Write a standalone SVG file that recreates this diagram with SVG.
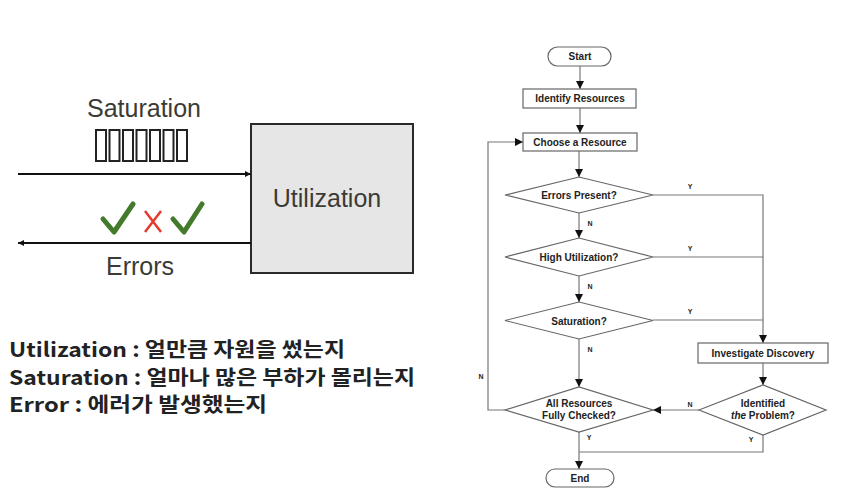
<svg xmlns="http://www.w3.org/2000/svg" width="846" height="499" viewBox="0 0 846 499">
<defs>
<style>
.lbl{font-family:"Liberation Sans",Arial,sans-serif;fill:#3b3b36;font-size:25px}
.kr{font-family:"Noto Sans CJK KR","Noto Sans",sans-serif;font-weight:bold;font-size:20px;fill:#222}
.fc{font-family:"Liberation Sans",Arial,sans-serif;font-weight:bold;font-size:10px;fill:#222;text-anchor:middle}
.yn{font-family:"Liberation Sans",Arial,sans-serif;font-weight:bold;font-size:7px;fill:#222;text-anchor:middle}
.shape{fill:#fff;stroke:#666;stroke-width:1.2}
.ln{fill:none;stroke:#777;stroke-width:1.2}
.q{fill:none;stroke:#222;stroke-width:2}
</style>
<marker id="ah" viewBox="0 0 10 10" refX="10" refY="5" markerWidth="8" markerHeight="10" markerUnits="userSpaceOnUse" orient="auto">
<path d="M0,0L10,5L0,10z" fill="#111"/>
</marker>
<marker id="sa" viewBox="0 0 10 10" refX="10" refY="5" markerWidth="7" markerHeight="6" markerUnits="userSpaceOnUse" orient="auto">
<path d="M0,0L10,5L0,10z" fill="#111"/>
</marker>
</defs>
<rect width="846" height="499" fill="#fff"/>

<!-- Left diagram -->
<g id="utilization-box">
<rect x="251" y="124" width="162" height="149" fill="#e6e6e6" stroke="#2a2a2a" stroke-width="2"/>
<text class="lbl" x="327" y="207" text-anchor="middle" font-size="26">Utilization</text>
</g>
<g id="saturation">
<text class="lbl" x="144" y="117" text-anchor="middle">Saturation</text>
<rect class="q" x="96" y="130" width="10" height="31"/>
<rect class="q" x="109.5" y="130" width="10" height="31"/>
<rect class="q" x="123" y="130" width="10" height="31"/>
<rect class="q" x="136.5" y="130" width="10" height="31"/>
<rect class="q" x="150" y="130" width="10" height="31"/>
<rect class="q" x="163.5" y="130" width="10" height="31"/>
<rect class="q" x="177" y="130" width="10" height="31"/>
</g>
<g id="errors">
<text class="lbl" x="140" y="275" text-anchor="middle">Errors</text>
<path d="M103,219L114,232L133,204" fill="none" stroke="#447a2c" stroke-width="5" stroke-linecap="round" stroke-linejoin="round"/>
<path d="M145,211L161,232M161,211L145,232" stroke="#e63a2e" stroke-width="2.5"/>
<path d="M173,219L184,232L202,204" fill="none" stroke="#447a2c" stroke-width="5" stroke-linecap="round" stroke-linejoin="round"/>
</g>
<g id="left-connectors">
<line x1="18" y1="174" x2="251" y2="174" stroke="#111" stroke-width="2" marker-end="url(#sa)"/>
<line x1="251" y1="243" x2="18" y2="243" stroke="#111" stroke-width="2" marker-end="url(#sa)"/>
</g>

<g id="notes">
<text class="kr" x="9" y="357" textLength="336" lengthAdjust="spacingAndGlyphs">Utilization : 얼만큼 자원을 썼는지</text>
<text class="kr" x="9" y="385" textLength="406" lengthAdjust="spacingAndGlyphs">Saturation : 얼마나 많은 부하가 몰리는지</text>
<text class="kr" x="9" y="412" textLength="258" lengthAdjust="spacingAndGlyphs">Error : 에러가 발생했는지</text>
</g>

<!-- Flowchart -->
<g id="connectors">
<line class="ln" x1="580" y1="66" x2="580" y2="89" marker-end="url(#ah)"/>
<line class="ln" x1="580" y1="108" x2="580" y2="133" marker-end="url(#ah)"/>
<line class="ln" x1="579" y1="151" x2="579" y2="177" marker-end="url(#ah)"/>
<line class="ln" x1="579" y1="213" x2="579" y2="238" marker-end="url(#ah)"/>
<line class="ln" x1="579" y1="276" x2="579" y2="302" marker-end="url(#ah)"/>
<line class="ln" x1="579" y1="339" x2="579" y2="387" marker-end="url(#ah)"/>
<polyline class="ln" points="653,195 763,195 763,343" marker-end="url(#ah)"/>
<line class="ln" x1="653" y1="257" x2="763" y2="257"/>
<line class="ln" x1="653" y1="320" x2="763" y2="320"/>
<line class="ln" x1="763" y1="363" x2="763" y2="385" marker-end="url(#ah)"/>
<line class="ln" x1="699" y1="410" x2="653" y2="410" marker-end="url(#ah)"/>
<polyline class="ln" points="505,410 488,410 488,142 523,142" marker-end="url(#ah)"/>
<polyline class="ln" points="763,435 763,452 579,452"/>
<line class="ln" x1="579" y1="432" x2="579" y2="469" marker-end="url(#ah)"/>
<text class="yn" x="690" y="189">Y</text>
<text class="yn" x="690" y="251">Y</text>
<text class="yn" x="690" y="314">Y</text>
<text class="yn" x="590" y="226">N</text>
<text class="yn" x="590" y="289">N</text>
<text class="yn" x="590" y="352">N</text>
<text class="yn" x="690" y="407">N</text>
<text class="yn" x="481" y="379">N</text>
<text class="yn" x="589" y="440">Y</text>
<text class="yn" x="751" y="442">Y</text>
</g>
<g id="start">
<rect class="shape" x="548" y="47" width="63" height="19" rx="9.5"/>
<text class="fc" x="580" y="60">Start</text>
</g>
<g id="identify-resources">
<rect class="shape" x="523" y="89" width="113" height="19"/>
<text class="fc" x="580" y="102">Identify Resources</text>
</g>
<g id="choose-resource">
<rect class="shape" x="523" y="133" width="114" height="18"/>
<text class="fc" x="580" y="146">Choose a Resource</text>
</g>
<g id="errors-present">
<polygon class="shape" points="505,195 579,177 653,195 579,213"/>
<text class="fc" x="579" y="199">Errors Present?</text>
</g>
<g id="high-utilization">
<polygon class="shape" points="505,257 579,238 653,257 579,276"/>
<text class="fc" x="579" y="261">High Utilization?</text>
</g>
<g id="saturation-q">
<polygon class="shape" points="505,320.5 579,302 653,320.5 579,339"/>
<text class="fc" x="579" y="324.5">Saturation?</text>
</g>
<g id="investigate">
<rect class="shape" x="698" y="343" width="130" height="20"/>
<text class="fc" x="763" y="357">Investigate Discovery</text>
</g>
<g id="identified">
<polygon class="shape" points="699,410 763,385 826,410 763,435"/>
<text class="fc" x="763" y="407">Identified</text>
<text class="fc" x="763" y="419"><tspan font-style="italic">the</tspan> Problem?</text>
</g>
<g id="all-checked">
<polygon class="shape" points="505,410 579,387 653,410 579,432"/>
<text class="fc" x="579" y="407">All Resources</text>
<text class="fc" x="579" y="419">Fully Checked?</text>
</g>
<g id="end">
<rect class="shape" x="546" y="469" width="68" height="18" rx="9"/>
<text class="fc" x="580" y="482">End</text>
</g>
</svg>
